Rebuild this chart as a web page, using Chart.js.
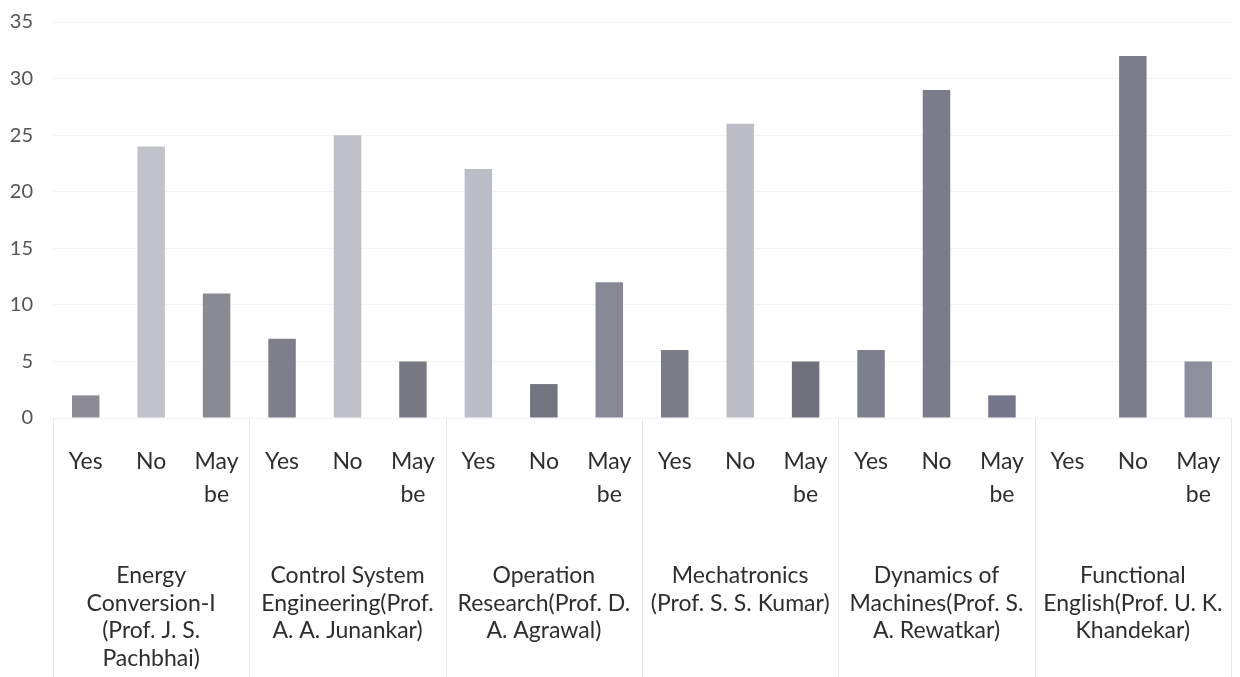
<!DOCTYPE html>
<html>
<head>
<meta charset="utf-8">
<title>Course feedback</title>
<script src="https://cdn.jsdelivr.net/npm/chart.js@4.4.1/dist/chart.umd.min.js"></script>
<style>
  html, body { margin: 0; padding: 0; background: #ffffff; }
  #wrap { width: 1240px; height: 677px; position: relative; }
</style>
</head>
<body>
<div id="wrap"><canvas id="chart" width="1240" height="677"></canvas></div>
<script>
// Courses (outer axis labels, one line per entry)
const courses = [
  ['Energy', 'Conversion-I', '(Prof. J. S.', 'Pachbhai)'],
  ['Control System', 'Engineering(Prof.', 'A. A. Junankar)'],
  ['Operation', 'Research(Prof. D.', 'A. Agrawal)'],
  ['Mechatronics', '(Prof. S. S. Kumar)'],
  ['Dynamics of', 'Machines(Prof. S.', 'A. Rewatkar)'],
  ['Functional', 'English(Prof. U. K.', 'Khandekar)']
];

// Answer options (inner axis labels)
const answers = ['Yes', 'No', ['May', 'be']];

// Number of responses per course
const yesCounts   = [2, 7, 22, 6, 6, 0];
const noCounts    = [24, 25, 3, 26, 29, 32];
const maybeCounts = [11, 5, 12, 5, 2, 5];

// Value axis tick labels
const yTicks = [0, 5, 10, 15, 20, 25, 30, 35];

// Bar fills, per course: [Yes, No, May be]
const barFills = [
  ['#8d8b94', '#c0c1c9', '#8a8a95'],
  ['#7f7f8b', '#bebfc8', '#777884'],
  ['#bcbdc7', '#737480', '#878895'],
  ['#7b7c88', '#bcbdc6', '#70717d'],
  ['#7e7f8c', '#7b7c8a', '#75768a'],
  ['#8a8b98', '#7c7d8b', '#8e8f9c']
];

// Flatten courses x answers into one category axis
const flatLabels = [];
const flatValues = [];
const flatColors = [];
courses.forEach((c, i) => {
  const vals = [yesCounts[i], noCounts[i], maybeCounts[i]];
  answers.forEach((a, j) => {
    flatLabels.push(a);
    flatValues.push(vals[j]);
    flatColors.push(barFills[i][j]);
  });
});

const FONT = "'Lato', 'Carlito', 'Open Sans', sans-serif";

// Faint separators between course groups, below the plot area
const groupSeparators = {
  id: 'groupSeparators',
  afterDraw(chart) {
    const x = chart.scales.x;
    const ctx = chart.ctx;
    const n = answers.length;
    const bounds = [x.left];
    for (let k = 1; k < courses.length; k++) {
      bounds.push((x.getPixelForValue(k * n - 1) + x.getPixelForValue(k * n)) / 2);
    }
    bounds.push(x.right);
    ctx.save();
    ctx.strokeStyle = '#e6e6e6';
    ctx.lineWidth = 1;
    bounds.forEach(px => {
      const p = Math.round(px) + 0.5;
      ctx.beginPath();
      ctx.moveTo(p, chart.chartArea.bottom);
      ctx.lineTo(p, chart.height);
      ctx.stroke();
    });
    ctx.restore();
  }
};

// Fixed axis sizes keep the plot box stable
function fixBox(size, horizontal) {
  return function (scale) {
    if (horizontal) {
      scale.height = size;
    } else {
      scale.width = size;
    }
    scale.paddingLeft = 0;
    scale.paddingRight = 0;
    scale.paddingTop = 0;
    scale.paddingBottom = 0;
  };
}

new Chart(document.getElementById('chart'), {
  type: 'bar',
  data: {
    labels: flatLabels,
    datasets: [{
      data: flatValues,
      backgroundColor: flatColors,
      borderWidth: 0,
      barPercentage: 0.42,
      categoryPercentage: 1.0
    }]
  },
  options: {
    responsive: false,
    animation: false,
    layout: { padding: { left: 10, right: 9, top: 22, bottom: 4 } },
    plugins: {
      legend: { display: false },
      tooltip: { enabled: false }
    },
    scales: {
      y: {
        min: yTicks[0],
        max: yTicks[yTicks.length - 1],
        afterBuildTicks(scale) {
          scale.ticks = yTicks.map(v => ({ value: v }));
        },
        afterFit: fixBox(43, false),
        grid: { color: '#f3f3f3', drawTicks: false },
        border: { display: false },
        ticks: {
          padding: 20,
          color: '#555555',
          font: { family: FONT, size: 20 }
        }
      },
      x: {
        type: 'category',
        offset: true,
        afterFit: fixBox(96, true),
        grid: { display: false, drawTicks: false },
        border: { display: false },
        ticks: {
          autoSkip: false,
          maxRotation: 0,
          minRotation: 0,
          padding: 27,
          color: '#2e2e2e',
          font: { family: FONT, size: 23, lineHeight: 1.45 }
        }
      },
      x2: {
        type: 'category',
        position: 'bottom',
        labels: courses,
        offset: true,
        afterFit: fixBox(159, true),
        grid: { display: false, drawTicks: false },
        border: { display: false },
        ticks: {
          autoSkip: false,
          maxRotation: 0,
          minRotation: 0,
          padding: 48,
          color: '#2e2e2e',
          font: { family: FONT, size: 23, lineHeight: 1.2 }
        }
      }
    }
  },
  plugins: [groupSeparators]
});
</script>
</body>
</html>
